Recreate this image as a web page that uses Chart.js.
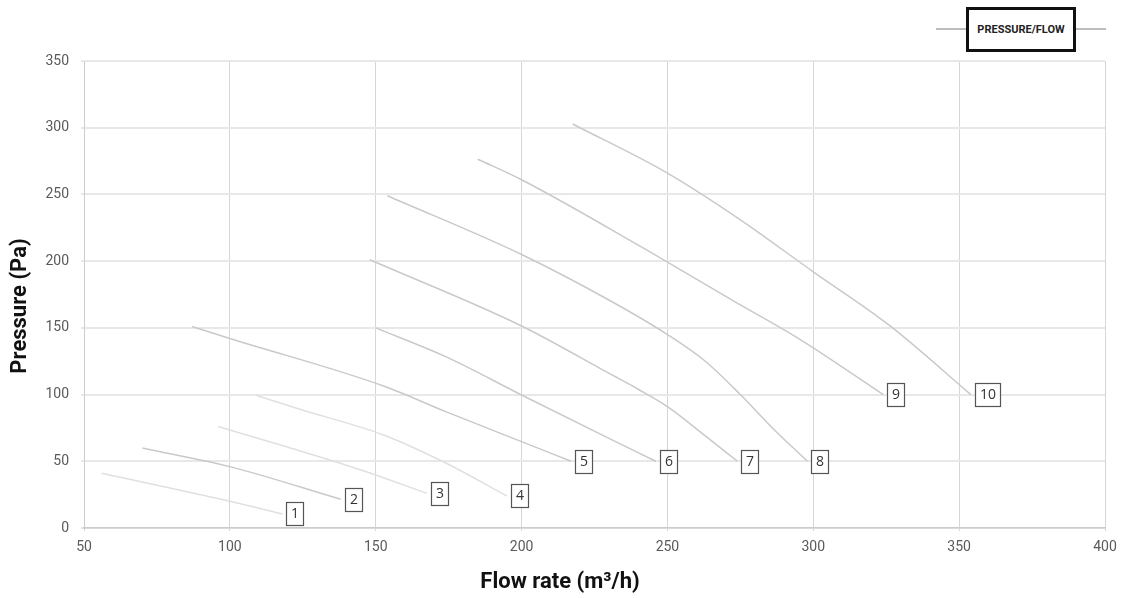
<!DOCTYPE html>
<html>
<head>
<meta charset="utf-8">
<script src="https://cdn.jsdelivr.net/npm/chart.js@4/dist/chart.umd.min.js"></script>
<style>
  html, body { margin: 0; padding: 0; background: #fff; }
  #wrap { position: relative; width: 1121px; height: 598px; }
  canvas { position: absolute; left: 0; top: 0; }
  .lgline { position: absolute; top: 28px; height: 2px; width: 30px; background: #bdbdbd; }
  #lgbox { position: absolute; left: 966px; top: 7px; width: 110px; height: 45px; box-sizing: border-box;
    border: 3px solid #111; background: #fff; display: flex; align-items: center; justify-content: center;
    font-family: Roboto, sans-serif; font-weight: bold; font-size: 11px; color: #222; }
</style>
</head>
<body>
<div id="wrap">
  <canvas id="c" width="1121" height="598"></canvas>
  <div class="lgline" style="left:936px"></div>
  <div class="lgline" style="left:1076px"></div>
  <div id="lgbox">PRESSURE/FLOW</div>
</div>
<script>
// ---- data ----
const curveLabels = ['1','2','3','4','5','6','7','8','9','10'];
const flow1 = [56, 100, 118];
const press1 = [41, 20, 10.5];
const flow2 = [70, 100, 138];
const press2 = [60, 46, 21.5];
const flow3 = [96, 120, 145, 167.5];
const press3 = [76, 60.5, 43.5, 26];
const flow4 = [109, 124, 152.7, 174, 195];
const press4 = [99.5, 89, 69.7, 48.7, 24];
const flow5 = [87, 100, 152.7, 174, 200, 217];
const press5 = [151, 142, 106.4, 87.2, 64.7, 50];
const flow6 = [150, 174, 200, 231, 246];
const press6 = [150, 128.4, 99.7, 66, 50];
const flow7 = [148, 200, 231, 240, 250, 263, 274];
const press7 = [201, 151.4, 114.7, 104, 91, 69, 50];
const flow8 = [154, 200, 229, 250, 263, 275, 286, 298];
const press8 = [249, 205, 172, 145, 125, 100, 75, 50];
const flow9 = [185, 200, 240, 272, 295, 324];
const press9 = [276.4, 261, 212, 171, 142, 100];
const flow10 = [217.5, 250, 275, 300, 326, 354];
const press10 = [302.8, 266, 231, 192, 152, 100];
const xTicks = [50, 100, 150, 200, 250, 300, 350, 400];
const yTicks = [0, 50, 100, 150, 200, 250, 300, 350];
const xTitle = 'Flow rate (m³/h)';
const yTitle = 'Pressure (Pa)';

const flows = [flow1, flow2, flow3, flow4, flow5, flow6, flow7, flow8, flow9, flow10];
const presses = [press1, press2, press3, press4, press5, press6, press7, press8, press9, press10];
const lightCurves = [0, 2, 3];

const datasets = flows.map((f, i) => ({
  label: curveLabels[i],
  data: f.map((x, j) => ({ x: x, y: presses[i][j] })),
  borderColor: lightCurves.includes(i) ? '#e0e0e0' : '#c9c9c9',
  borderWidth: 1.5,
  pointRadius: 0,
  fill: false,
  cubicInterpolationMode: 'monotone'
}));

const endLabels = {
  id: 'endLabels',
  afterDatasetsDraw(chart) {
    const ctx = chart.ctx;
    const xs = chart.scales.x, ys = chart.scales.y;
    ctx.save();
    ctx.font = '14px "Open Sans", sans-serif';
    ctx.textAlign = 'center';
    ctx.textBaseline = 'middle';
    chart.data.datasets.forEach(ds => {
      const last = ds.data[ds.data.length - 1];
      const px = xs.getPixelForValue(last.x);
      const py = ys.getPixelForValue(last.y);
      const tw = ctx.measureText(ds.label).width;
      const w = Math.round(tw + 9), h = 23;
      const left = Math.round(px + 4), top = Math.round(py - h / 2);
      ctx.fillStyle = '#fff';
      ctx.fillRect(left, top, w, h);
      ctx.strokeStyle = '#555';
      ctx.lineWidth = 1.2;
      ctx.strokeRect(left + 0.5, top + 0.5, w, h);
      ctx.fillStyle = '#333';
      ctx.fillText(ds.label, left + 0.5 + w / 2, top + h / 2 + 1);
    });
    ctx.restore();
  }
};

const axisTitles = {
  id: 'axisTitles',
  afterDraw(chart) {
    const ctx = chart.ctx;
    ctx.save();
    ctx.fillStyle = '#111';
    ctx.font = 'bold 22px Roboto, sans-serif';
    ctx.textAlign = 'center';
    ctx.textBaseline = 'middle';
    ctx.fillText(xTitle, 560, 582);
    ctx.translate(20, 306);
    ctx.rotate(-Math.PI / 2);
    ctx.fillText(yTitle, 0, 0);
    ctx.restore();
  }
};

new Chart(document.getElementById('c'), {
  type: 'line',
  data: { datasets: datasets },
  options: {
    responsive: false,
    animation: false,
    devicePixelRatio: 1,
    layout: { padding: { top: 61, right: 16, left: 0, bottom: 0 } },
    plugins: { legend: { display: false }, tooltip: { enabled: false } },
    scales: {
      x: {
        type: 'linear',
        min: 50, max: 400,
        afterBuildTicks: s => { s.ticks = xTicks.map(v => ({ value: v })); },
        afterFit: s => { s.height = 70; s.paddingRight = 0; s.paddingLeft = 0; },
        grid: { color: '#d6d6d6', lineWidth: 1, tickLength: 3 },
        border: { color: '#cccccc', width: 1.5 },
        ticks: { color: '#5a5a5a', font: { family: 'Roboto', size: 14 }, padding: 8, maxRotation: 0 }
      },
      y: {
        type: 'linear',
        min: 0, max: 350,
        afterBuildTicks: s => { s.ticks = yTicks.map(v => ({ value: v })); },
        afterFit: s => { s.width = 84; s.paddingTop = 0; s.paddingBottom = 0; },
        grid: { color: '#e8e8e8', lineWidth: 2, tickLength: 3 },
        border: { color: '#cccccc', width: 1 },
        ticks: { color: '#5a5a5a', font: { family: 'Roboto', size: 14 }, padding: 12 }
      }
    }
  },
  plugins: [endLabels, axisTitles]
});
</script>
</body>
</html>
